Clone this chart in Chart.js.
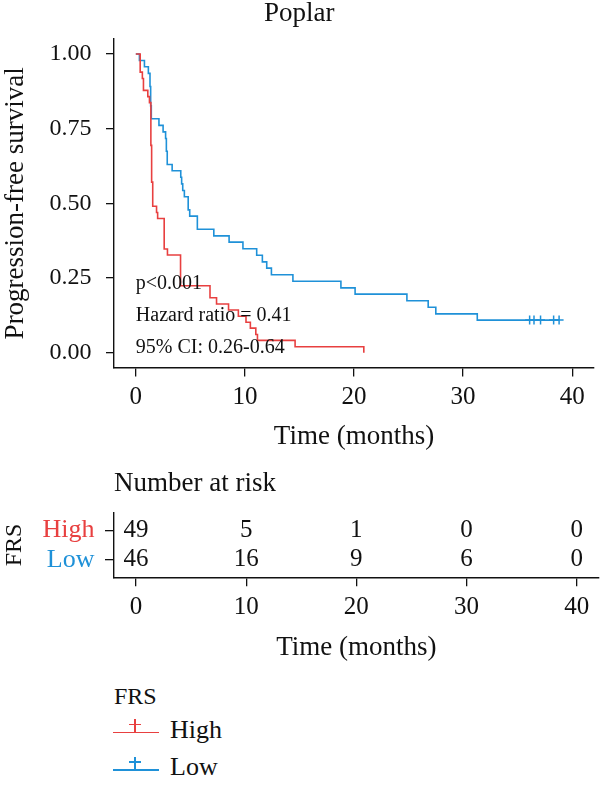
<!DOCTYPE html>
<html>
<head>
<meta charset="utf-8">
<script src="https://cdn.jsdelivr.net/npm/chart.js@4.4.1/dist/chart.umd.min.js"></script>
<style>
  html, body { margin: 0; padding: 0; background: #fff; }
  body { width: 600px; height: 786px; position: relative; overflow: hidden; font-family: "Liberation Serif", "Times New Roman", serif; color: #111; }
  #c1 { position: absolute; left: 0; top: 0; }
  #c2 { position: absolute; left: 0; top: 470px; }
  .lg { position: absolute; white-space: nowrap; }
  .bar { position: absolute; }
</style>
</head>
<body>
<canvas id="c1" width="600" height="460"></canvas>
<canvas id="c2" width="600" height="200"></canvas>
<div id="legend"></div>
<script>
// ---------------- data ----------------
const chartTitle = 'Poplar';
const groupName = 'FRS';
const groups = ['High', 'Low'];
const groupColors = ['#E84040', '#1F91D8'];

// Kaplan-Meier steps (time in months, survival after the step)
const highTimes = [0, 0.4, 0.6, 0.7, 1.1, 1.25, 1.38, 1.45, 1.55, 1.9, 2.0, 2.6, 2.9, 4.1, 6.8, 7.4, 8.5, 9.4, 10.1, 10.5, 11.0, 11.15, 14.6, 20.9];
const highSurv  = [1.0, 0.939, 0.918, 0.878, 0.857, 0.837, 0.694, 0.571, 0.490, 0.469, 0.449, 0.347, 0.327, 0.224, 0.184, 0.163, 0.143, 0.122, 0.102, 0.082, 0.061, 0.041, 0.020, 0.0];

const lowTimes = [0, 0.33, 0.79, 1.15, 1.3, 1.36, 1.42, 2.12, 2.5, 2.73, 2.8, 2.88, 3.33, 4.12, 4.2, 4.3, 4.45, 4.8, 4.94, 5.64, 7.15, 8.55, 9.82, 11.08, 11.6, 12.0, 12.43, 14.4, 18.8, 20.1, 24.85, 26.8, 27.5, 31.3, 38.8];
const lowSurv  = [1.0, 0.978, 0.957, 0.935, 0.891, 0.826, 0.783, 0.761, 0.739, 0.717, 0.674, 0.630, 0.609, 0.587, 0.565, 0.543, 0.522, 0.478, 0.457, 0.413, 0.391, 0.370, 0.348, 0.326, 0.304, 0.283, 0.261, 0.239, 0.217, 0.196, 0.174, 0.152, 0.130, 0.109, 0.109];

const lowCensorTimes = [36.1, 36.5, 37.1, 38.3, 38.8];
const lowCensorSurv  = [0.109, 0.109, 0.109, 0.109, 0.109];

const xTicks = [0, 10, 20, 30, 40];
const yTicks = [0, 0.25, 0.5, 0.75, 1.0];

const statTexts = ['p<0.001', 'Hazard ratio = 0.41', '95% CI: 0.26-0.64'];
const statY = [0.213, 0.106, 0.0];

const riskTimes = [0, 10, 20, 30, 40];
const riskHigh = [49, 5, 1, 0, 0];
const riskLow  = [46, 16, 9, 6, 0];

// ---------------- styling ----------------
const FONT = "'Liberation Serif', 'Times New Roman', serif";
const INK = '#111';

function pts(ts, ys) { return ts.map((t, i) => ({ x: t, y: ys[i] })); }

const statPlugin = {
  id: 'stats',
  afterDatasetsDraw(chart) {
    const { ctx, scales: { x, y } } = chart;
    ctx.save();
    ctx.font = `20px ${FONT}`;
    ctx.fillStyle = INK;
    ctx.textAlign = 'left';
    ctx.textBaseline = 'alphabetic';
    statTexts.forEach((t, i) => ctx.fillText(t, x.getPixelForValue(0), y.getPixelForValue(statY[i])));
    ctx.restore();
  }
};

function axisGrid(len) {
  return { display: true, drawOnChartArea: false, drawTicks: true, tickLength: len, color: INK, lineWidth: 1.3 };
}
const axisBorder = { display: true, color: INK, width: 1.4 };

new Chart(document.getElementById('c1'), {
  type: 'line',
  data: {
    datasets: [
      { label: groups[0], data: pts(highTimes, highSurv), borderColor: groupColors[0], borderWidth: 1.6, stepped: 'before', pointRadius: 0, fill: false },
      { label: groups[1], data: pts(lowTimes, lowSurv), borderColor: groupColors[1], borderWidth: 1.6, stepped: 'before', pointRadius: 0, fill: false },
      { type: 'scatter', label: groups[1] + ' censored', data: pts(lowCensorTimes, lowCensorSurv), pointStyle: 'cross', pointRadius: 4.5, borderColor: groupColors[1], pointBorderWidth: 1.5, showLine: false }
    ]
  },
  options: {
    responsive: false, animation: false, devicePixelRatio: 1,
    layout: { padding: { left: 0, right: 1.3, top: 0, bottom: 0 } },
    plugins: {
      legend: { display: false }, tooltip: { enabled: false },
      title: { display: true, text: chartTitle, color: INK, font: { family: FONT, size: 27, weight: 'normal', lineHeight: 1.0 }, padding: { top: 0, bottom: 12 } }
    },
    scales: {
      x: {
        type: 'linear', min: -2, max: 42,
        afterBuildTicks: s => { s.ticks = xTicks.map(v => ({ value: v })); },
        afterFit: s => { s.height = 92.4; },
        grid: axisGrid(9), border: axisBorder,
        ticks: { color: INK, font: { family: FONT, size: 25 }, padding: 6, maxRotation: 0, autoSkip: false, callback: v => String(v) },
        title: { display: true, text: 'Time (months)', color: INK, font: { family: FONT, size: 27 }, padding: { top: 0, bottom: 7 } }
      },
      y: {
        type: 'linear', min: -0.05, max: 1.05,
        afterBuildTicks: s => { s.ticks = yTicks.map(v => ({ value: v })); },
        afterFit: s => { s.width = 114; },
        grid: axisGrid(8), border: axisBorder,
        ticks: { color: INK, font: { family: FONT, size: 24 }, padding: 14.5, autoSkip: false, callback: v => Number(v).toFixed(2) },
        title: { display: true, text: 'Progression-free survival', color: INK, font: { family: FONT, size: 27 }, padding: { top: 0, bottom: 0 } }
      }
    }
  },
  plugins: [statPlugin]
});

// ---------------- risk table ----------------
const riskPlugin = {
  id: 'riskText',
  afterDatasetsDraw(chart) {
    const { ctx } = chart;
    ctx.save();
    ctx.font = `25px ${FONT}`;
    ctx.fillStyle = INK;
    ctx.textAlign = 'center';
    ctx.textBaseline = 'middle';
    chart.data.datasets.forEach((ds, di) => {
      const meta = chart.getDatasetMeta(di);
      meta.data.forEach((el, j) => ctx.fillText(String(ds.data[j].n), el.x, el.y));
    });
    ctx.restore();
  }
};

const riskRows = [riskHigh, riskLow];
new Chart(document.getElementById('c2'), {
  type: 'scatter',
  data: {
    datasets: riskRows.map((row, gi) => ({
      label: groups[gi],
      data: riskTimes.map((t, j) => ({ x: t, y: gi + 1, n: row[j] })),
      pointRadius: 0, showLine: false
    }))
  },
  options: {
    responsive: false, animation: false, devicePixelRatio: 1,
    layout: { padding: { left: 0, right: 1.3, top: 0, bottom: 0 } },
    plugins: {
      legend: { display: false }, tooltip: { enabled: false },
      title: { display: true, text: 'Number at risk', align: 'start', fullSize: false, color: INK, font: { family: FONT, size: 27, weight: 'normal', lineHeight: 1.0 }, padding: { top: 0, bottom: 15.7 } }
    },
    scales: {
      x: {
        type: 'linear', min: -2, max: 42,
        afterBuildTicks: s => { s.ticks = xTicks.map(v => ({ value: v })); },
        afterFit: s => { s.height = 92.7; },
        grid: axisGrid(9), border: axisBorder,
        ticks: { color: INK, font: { family: FONT, size: 25 }, padding: 6, maxRotation: 0, autoSkip: false, callback: v => String(v) },
        title: { display: true, text: 'Time (months)', color: INK, font: { family: FONT, size: 27 }, padding: { top: 0, bottom: 5.9 } }
      },
      y: {
        type: 'linear', min: 0.4, max: 2.6, reverse: true,
        afterBuildTicks: s => { s.ticks = groups.map((g, i) => ({ value: i + 1 })); },
        afterFit: s => { s.width = 114; },
        grid: axisGrid(9), border: axisBorder,
        ticks: { font: { family: FONT, size: 26 }, padding: 10.5, autoSkip: false,
          color: c => groupColors[(c.tick ? c.tick.value : c.index + 1) - 1],
          callback: v => groups[v - 1] },
        title: { display: true, text: groupName, color: INK, font: { family: FONT, size: 24 }, padding: { top: 0, bottom: 0 } }
      }
    }
  },
  plugins: [riskPlugin]
});

// ---------------- legend (HTML) ----------------
(function buildLegend() {
  const lg = document.getElementById('legend');
  const add = (html) => { lg.insertAdjacentHTML('beforeend', html); };
  add(`<div class="lg" style="left:114px;top:684px;font-size:24px;line-height:24px;">${groupName}</div>`);
  groups.forEach((g, i) => {
    const ly = 732.3 + i * 37.7;
    const c = groupColors[i];
    add(`<div class="bar" style="left:113px;top:${ly - 0.8}px;width:46px;height:1.6px;background:${c}"></div>`);
    add(`<div class="bar" style="left:134.2px;top:${ly - 13}px;width:1.6px;height:13px;background:${c}"></div>`);
    add(`<div class="bar" style="left:129.3px;top:${ly - 8.8}px;width:11.4px;height:1.6px;background:${c}"></div>`);
    add(`<div class="lg" style="left:170px;top:${ly + 6 - 21.78}px;font-size:26px;line-height:26px;">${g}</div>`);
  });
})();
</script>
</body>
</html>
